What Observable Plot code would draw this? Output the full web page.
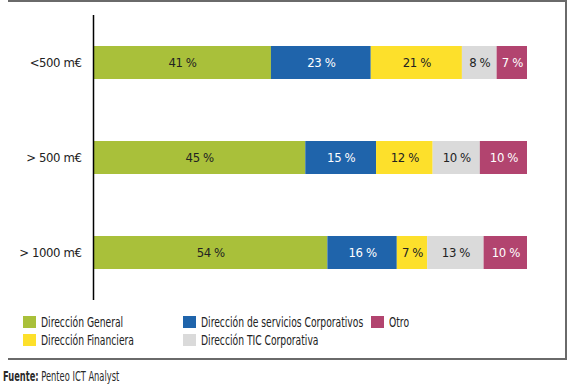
<!DOCTYPE html>
<html>
<head>
<meta charset="utf-8">
<script src="https://cdn.jsdelivr.net/npm/d3@7"></script>
<script src="https://cdn.jsdelivr.net/npm/@observablehq/plot@0.6"></script>
<style>
  body { margin: 0; background: #fff; font-family: "Liberation Sans Narrow", "DejaVu Sans Condensed", sans-serif; }
  #wrap { position: relative; width: 568px; height: 388px; overflow: hidden; }
  .line { position: absolute; background: #6a6a6a; }
  #chart { position: absolute; left: 0; top: 0; }
  #legend { position: absolute; left: 23px; top: 313px; display: grid; grid-auto-flow: column;
            grid-template-rows: 18px 18px; grid-template-columns: 160px 188px 100px; font-size: 14px; color: #222; }
  .item { display: flex; align-items: center; white-space: nowrap; }
  .sw { width: 13px; height: 12px; margin-right: 5px; flex: none; }
  .tx { display: inline-block; transform: scaleX(0.73); transform-origin: left center; }
  #source { position: absolute; left: 3px; top: 368px; font-size: 14px; color: #2a2a2a; white-space: nowrap;
            transform: scaleX(0.66); transform-origin: left center; }
</style>
</head>
<body>
<div id="wrap">
  <div class="line" style="left:8px;top:0;width:559px;height:2px"></div>
  <div class="line" style="left:565px;top:0;width:2px;height:360px"></div>
  <div class="line" style="left:8px;top:358px;width:559px;height:2px"></div>
  <div id="chart"></div>
  <div id="legend"></div>
  <div id="source"><b>Fuente:</b> Penteo ICT Analyst</div>
</div>
<script>
const categories = ["<500 m€", "> 500 m€", "> 1000 m€"];
const series = ["Dirección General", "Dirección de servicios Corporativos", "Dirección Financiera", "Dirección TIC Corporativa", "Otro"];
const colors = ["#a9c03a", "#1f64ab", "#fde02b", "#dadada", "#b2446f"];
const labelColors = ["#222", "#fff", "#222", "#222", "#fff"];
const values = [
  [41, 23, 21, 8, 7],
  [45, 15, 12, 10, 10],
  [54, 16, 7, 13, 10]
];
const legendOrder = ["Dirección General", "Dirección Financiera", "Dirección de servicios Corporativos", "Dirección TIC Corporativa", "Otro"];

const data = [];
categories.forEach((c, i) => series.forEach((s, j) => data.push({cat: c, series: s, value: values[i][j], label: values[i][j] + " %", lc: labelColors[j]})));

const stackOpts = {x: "value", y: "cat", z: "series", offset: "normalize", order: series};

const plot = Plot.plot({
  width: 568,
  height: 305,
  marginLeft: 93,
  marginRight: 41,
  marginTop: 15,
  marginBottom: 5,
  style: {fontFamily: "\"Liberation Sans Narrow\", \"DejaVu Sans Condensed\", sans-serif", fontSize: "13px", color: "#222", background: "transparent", letterSpacing: "-0.4px"},
  x: {axis: null},
  y: {domain: categories, paddingInner: 0.65, paddingOuter: 0.325, label: null, tickSize: 0, tickPadding: 12},
  color: {domain: series, range: colors},
  marks: [
    Plot.barX(data, Plot.stackX({...stackOpts, fill: "series"})),
    Plot.text(data, Plot.stackX({...stackOpts, text: d => d.lc === "#fff" ? d.label : "", fill: "#fff", fontSize: 13})),
    Plot.text(data, Plot.stackX({...stackOpts, text: d => d.lc !== "#fff" ? d.label : "", fill: "#222", fontSize: 13})),
    Plot.ruleX([0], {stroke: "#000", strokeWidth: 1.5})
  ]
});
document.getElementById("chart").appendChild(plot);

const legend = document.getElementById("legend");
legendOrder.forEach(s => {
  const it = document.createElement("div");
  it.className = "item";
  const sw = document.createElement("span");
  sw.className = "sw";
  sw.style.background = colors[series.indexOf(s)];
  const tx = document.createElement("span");
  tx.className = "tx";
  tx.textContent = s;
  it.appendChild(sw); it.appendChild(tx);
  legend.appendChild(it);
});
</script>
</body>
</html>
